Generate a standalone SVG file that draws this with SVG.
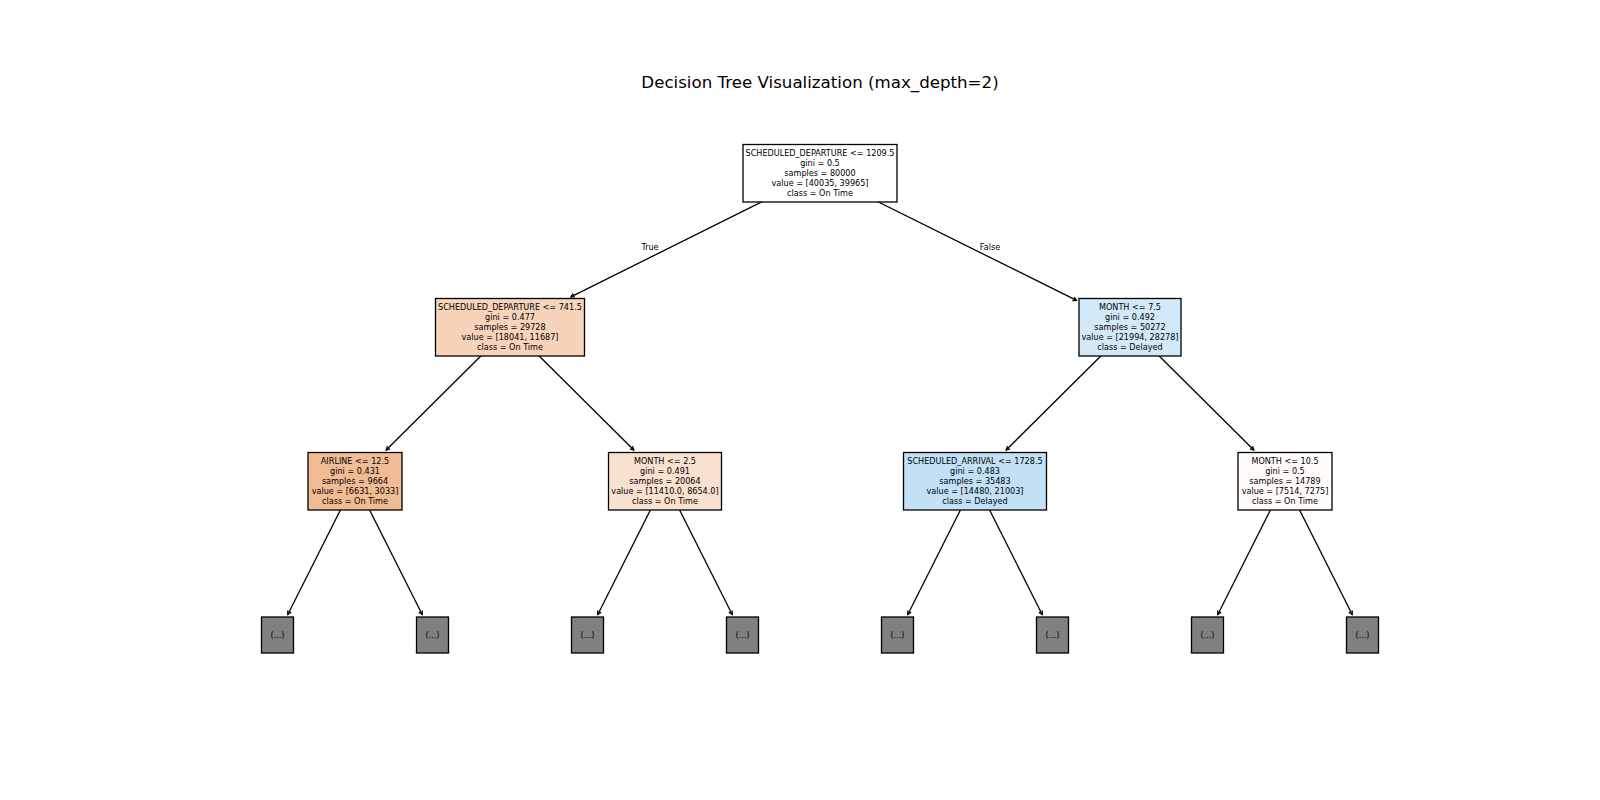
<svg xmlns="http://www.w3.org/2000/svg" width="1600" height="800" viewBox="0 0 1600 800">
<style>
text{font-family:"DejaVu Sans","Liberation Sans",sans-serif;fill:#000}
.t{font-size:8.1px;text-anchor:middle}
.box{stroke:#000;stroke-width:1.3}
.leaf{fill:#808080;stroke:#000;stroke-width:1.3}
.e{stroke:#000;stroke-width:1.3;fill:none;marker-end:url(#ah)}
</style>
<defs>
<marker id="ah" markerUnits="userSpaceOnUse" orient="auto" markerWidth="10" markerHeight="10" refX="0" refY="0" viewBox="-6 -5 8 10" overflow="visible">
<path d="M-3.6,-1.9 L0,0 L-3.6,1.9" fill="none" stroke="#000" stroke-width="1.3"/>
</marker>
</defs>
<rect width="1600" height="800" fill="#fff"/>
<text x="820" y="87.7" style="font-size:16.67px;text-anchor:middle">Decision Tree Visualization (max_depth=2)</text>

<g id="connectors">
<line class="e" x1="820" y1="173" x2="570.9" y2="296.8"/>
<line class="e" x1="820" y1="173" x2="1076.5" y2="300.4"/>
<line class="e" x1="510" y1="327" x2="386.2" y2="450"/>
<line class="e" x1="510" y1="327" x2="633.8" y2="450"/>
<line class="e" x1="1130" y1="327" x2="1006.2" y2="450"/>
<line class="e" x1="1130" y1="327" x2="1253.8" y2="450"/>
<line class="e" x1="355" y1="481" x2="287.8" y2="614.5"/>
<line class="e" x1="355" y1="481" x2="422.2" y2="614.5"/>
<line class="e" x1="665" y1="481" x2="597.8" y2="614.5"/>
<line class="e" x1="665" y1="481" x2="732.2" y2="614.5"/>
<line class="e" x1="975" y1="481" x2="907.8" y2="614.5"/>
<line class="e" x1="975" y1="481" x2="1042.2" y2="614.5"/>
<line class="e" x1="1285" y1="481" x2="1217.8" y2="614.5"/>
<line class="e" x1="1285" y1="481" x2="1352.2" y2="614.5"/>
<text class="t" x="650" y="249.5">True</text>
<text class="t" x="990" y="249.5">False</text>
</g>

<g id="node0">
<rect class="box" x="743" y="144.5" width="154" height="57.5" fill="#ffffff"/>
<text class="t" x="820" y="155.5">SCHEDULED_DEPARTURE &lt;= 1209.5</text>
<text class="t" x="820" y="165.6">gini = 0.5</text>
<text class="t" x="820" y="175.7">samples = 80000</text>
<text class="t" x="820" y="185.8">value = [40035, 39965]</text>
<text class="t" x="820" y="195.9">class = On Time</text>
</g>

<g id="node1">
<rect class="box" x="435.5" y="298.5" width="149" height="57.5" fill="#f6d3b9"/>
<text class="t" x="510" y="309.5">SCHEDULED_DEPARTURE &lt;= 741.5</text>
<text class="t" x="510" y="319.6">gini = 0.477</text>
<text class="t" x="510" y="329.7">samples = 29728</text>
<text class="t" x="510" y="339.8">value = [18041, 11687]</text>
<text class="t" x="510" y="349.9">class = On Time</text>
</g>

<g id="node2">
<rect class="box" x="1079" y="298.5" width="102" height="57.5" fill="#d3e9f9"/>
<text class="t" x="1130" y="309.5">MONTH &lt;= 7.5</text>
<text class="t" x="1130" y="319.6">gini = 0.492</text>
<text class="t" x="1130" y="329.7">samples = 50272</text>
<text class="t" x="1130" y="339.8">value = [21994, 28278]</text>
<text class="t" x="1130" y="349.9">class = Delayed</text>
</g>

<g id="node3">
<rect class="box" x="308" y="452.5" width="94" height="57.5" fill="#f1bb94"/>
<text class="t" x="355" y="463.5">AIRLINE &lt;= 12.5</text>
<text class="t" x="355" y="473.6">gini = 0.431</text>
<text class="t" x="355" y="483.7">samples = 9664</text>
<text class="t" x="355" y="493.8">value = [6631, 3033]</text>
<text class="t" x="355" y="503.9">class = On Time</text>
</g>

<g id="node4">
<rect class="box" x="608.5" y="452.5" width="113" height="57.5" fill="#f9e1cf"/>
<text class="t" x="665" y="463.5">MONTH &lt;= 2.5</text>
<text class="t" x="665" y="473.6">gini = 0.491</text>
<text class="t" x="665" y="483.7">samples = 20064</text>
<text class="t" x="665" y="493.8">value = [11410.0, 8654.0]</text>
<text class="t" x="665" y="503.9">class = On Time</text>
</g>

<g id="node5">
<rect class="box" x="903.5" y="452.5" width="143" height="57.5" fill="#c2e1f7"/>
<text class="t" x="975" y="463.5">SCHEDULED_ARRIVAL &lt;= 1728.5</text>
<text class="t" x="975" y="473.6">gini = 0.483</text>
<text class="t" x="975" y="483.7">samples = 35483</text>
<text class="t" x="975" y="493.8">value = [14480, 21003]</text>
<text class="t" x="975" y="503.9">class = Delayed</text>
</g>

<g id="node6">
<rect class="box" x="1238" y="452.5" width="94" height="57.5" fill="#fefbf9"/>
<text class="t" x="1285" y="463.5">MONTH &lt;= 10.5</text>
<text class="t" x="1285" y="473.6">gini = 0.5</text>
<text class="t" x="1285" y="483.7">samples = 14789</text>
<text class="t" x="1285" y="493.8">value = [7514, 7275]</text>
<text class="t" x="1285" y="503.9">class = On Time</text>
</g>

<g id="leaf0"><rect class="leaf" x="261.5" y="617" width="32" height="36"/><text class="t" x="277.5" y="637.5">(...)</text></g>
<g id="leaf1"><rect class="leaf" x="416.5" y="617" width="32" height="36"/><text class="t" x="432.5" y="637.5">(...)</text></g>
<g id="leaf2"><rect class="leaf" x="571.5" y="617" width="32" height="36"/><text class="t" x="587.5" y="637.5">(...)</text></g>
<g id="leaf3"><rect class="leaf" x="726.5" y="617" width="32" height="36"/><text class="t" x="742.5" y="637.5">(...)</text></g>
<g id="leaf4"><rect class="leaf" x="881.5" y="617" width="32" height="36"/><text class="t" x="897.5" y="637.5">(...)</text></g>
<g id="leaf5"><rect class="leaf" x="1036.5" y="617" width="32" height="36"/><text class="t" x="1052.5" y="637.5">(...)</text></g>
<g id="leaf6"><rect class="leaf" x="1191.5" y="617" width="32" height="36"/><text class="t" x="1207.5" y="637.5">(...)</text></g>
<g id="leaf7"><rect class="leaf" x="1346.5" y="617" width="32" height="36"/><text class="t" x="1362.5" y="637.5">(...)</text></g>
</svg>
